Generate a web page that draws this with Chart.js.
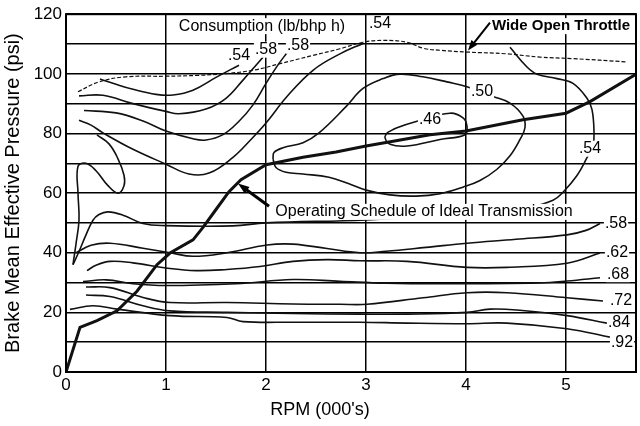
<!DOCTYPE html>
<html>
<head>
<meta charset="utf-8">
<script src="https://cdn.jsdelivr.net/npm/chart.js@4.4.1/dist/chart.umd.min.js"></script>
<style>
  html, body { margin: 0; padding: 0; background: #fff; }
</style>
</head>
<body>
<canvas id="bsfc-map" width="640" height="426"></canvas>
<script>
// Engine fuel consumption map, points are [rpm (000's), bmep (psi)]
const wideOpenThrottle = [[0.12,94],[0.33,97.3],[0.6,99],[1.0,99.2],[1.33,99.5],[1.6,100.1],[1.87,101.2],[2.14,103.4],[2.47,106.2],[2.74,108.4],[2.97,110.6],[3.17,111.2],[3.41,110.6],[3.57,108.6],[3.74,107.9],[4.01,107.3],[4.41,106.7],[4.74,105.6],[5.07,105.1],[5.61,104]];
const operatingSchedule = [[0,0],[0.14,15],[0.31,17.2],[0.51,20.5],[0.71,27.1],[0.91,36],[1.04,39.9],[1.27,44.3],[1.37,48.5],[1.5,54.5],[1.63,60.5],[1.75,64.5],[2.0,69.5],[2.37,72],[2.7,73.8],[3.0,75.8],[3.2,77],[3.64,79.6],[4.0,80.8],[4.57,84.6],[5.0,86.8],[5.24,90.7],[5.71,100.1]];

const c54TopLeft = [[0.34,98.3],[0.5,96.5],[0.67,94.8],[0.9,93.1],[1.07,92.9],[1.27,94.5],[1.5,98.8],[1.73,102.9]];
const c58TopA = [[0.13,92.6],[0.37,92.8],[0.67,90],[1.0,87.4],[1.13,86.6],[1.4,88.2],[1.6,91.8],[1.77,97.9],[1.9,102.9],[1.97,105.6]];
const c58TopB = [[0.18,87.7],[0.5,86.9],[0.77,84.2],[1.0,80.8],[1.27,78.2],[1.4,77.8],[1.57,79.6],[1.73,84.1],[1.87,89.6],[2.0,96.8],[2.12,103],[2.22,107.5]];
const c54Top = [[0.13,84.4],[0.25,82.8],[0.37,80.2],[0.67,74.7],[1.0,69.7],[1.23,66.4],[1.43,66.7],[1.67,72],[1.85,78],[2.0,83.5],[2.21,92.4],[2.47,101.2],[2.74,106.7],[2.97,110.2]];
const c50 = [[2.07,71.4],[2.08,73.6],[2.17,75.2],[2.37,76.9],[2.53,80.2],[2.8,89],[2.97,95.1],[3.17,98.4],[3.34,99.9],[3.57,99.0],[3.81,97.3],[4.01,95.7],[4.27,92.4],[4.44,90.2],[4.57,85.8],[4.59,82],[4.54,78],[4.44,72.5],[4.31,68],[4.14,64.2],[3.97,62],[3.74,59.8],[3.5,59],[3.24,59.4],[3.0,61],[2.83,63.1],[2.63,65.3],[2.37,66.4],[2.2,67],[2.1,68.6],[2.07,71.4]];
const c46 = [[3.21,80.2],[3.31,81.9],[3.51,84.1],[3.84,86.8],[3.97,85.2],[4.01,82.4],[3.99,79.6],[3.74,78.0],[3.41,75.8],[3.24,76.4],[3.19,78.6],[3.21,80.2]];
const c54Main = [[4.44,108.9],[4.61,102.3],[4.71,99.9],[4.91,98.4],[5.07,96.8],[5.21,91.8],[5.26,88],[5.28,80.4],[5.27,76],[5.21,71.9],[5.11,65.9],[4.97,60.3],[4.87,57.6],[4.6,55],[4.0,53],[3.0,51],[2.0,50],[1.67,49],[1.0,49.1],[0.77,49.8],[0.57,52.6],[0.42,53.7],[0.33,52.8],[0.27,50.9],[0.2,46],[0.13,40.4],[0.07,36]];
const c54Loop = [[0.07,36],[0.1,43],[0.13,51],[0.12,60],[0.12,69],[0.2,70],[0.3,67.5],[0.42,62.5],[0.52,60],[0.58,62.5],[0.58,66],[0.52,71.5],[0.43,76.5],[0.31,79.5]];
const c58 = [[0.1,40],[0.25,42.5],[0.44,43.2],[0.77,41.5],[1.04,40],[1.27,38.8],[1.61,40],[2.01,42.6],[2.27,42.9],[2.61,41.4],[2.94,40],[3.2,40.5],[3.6,41.8],[4.01,43.2],[4.5,44.5],[5.01,46],[5.2,47.5],[5.34,49.8]];
const c62 = [[0.21,34],[0.3,35.8],[0.44,37.1],[0.67,36.6],[1.0,34.9],[1.3,34],[1.61,34.4],[1.94,35.4],[2.27,37.1],[2.61,37.7],[2.94,37.3],[3.41,37.1],[4.01,35.1],[4.41,35.1],[5.01,36.5],[5.34,39.9]];
const c68 = [[0.17,30.3],[0.4,30.9],[0.67,29.6],[1.0,29.0],[1.7,29.6],[2.27,31],[2.74,30.4],[3.2,29.8],[3.74,29.6],[4.74,29.9],[5.01,30.5],[5.34,31.6]];
const c72 = [[0.2,28.5],[0.44,28.3],[0.77,25],[1.04,23.3],[1.61,23.3],[2.27,22.8],[2.74,22.7],[3.01,22.7],[3.57,24.9],[4.01,26.6],[4.41,26.6],[5.01,24.9],[5.37,23.8]];
const c84 = [[0.2,25.8],[0.44,25.3],[0.77,22.2],[1.04,20.5],[1.61,20],[2.27,19.6],[2.94,19.4],[3.41,19.4],[4.01,20],[4.24,21.1],[4.51,20.8],[5.01,18.9],[5.41,16.4]];
const c92 = [[0.04,21],[0.27,22.2],[0.51,21.1],[1.04,18.9],[1.61,18.3],[1.77,16.9],[2.27,16.7],[2.94,16.7],[3.41,16.4],[4.01,16.2],[4.41,16.4],[5.01,14.5],[5.44,11.7]];

// text on the map: [text, rpm, psi, bold]
const mapLabels = [
  ['Consumption (lb/bhp h)', 1.96, 116.0, false],
  ['.54', 1.73, 106.1, false],
  ['.58', 2.0, 108.1, false],
  ['.58', 2.32, 109.4, false],
  ['.54', 3.14, 116.7, false],
  ['Wide Open Throttle', 4.95, 116.0, true],
  ['.50', 4.16, 94.1, false],
  ['.46', 3.64, 84.5, false],
  ['.54', 5.24, 74.9, false],
  ['Operating Schedule of Ideal Transmission', 3.58, 53.7, false],
  ['.58', 5.5, 49.7, false],
  ['.62', 5.51, 40.1, false],
  ['.68', 5.52, 32.8, false],
  ['.72', 5.55, 23.9, false],
  ['.84', 5.53, 16.6, false],
  ['.92', 5.56, 9.9, false]
];
// arrows: [fromRpm, fromPsi, toRpm, toPsi, width]
const mapArrows = [
  [4.24, 117.2, 4.02, 107.8, 2],
  [2.03, 55.6, 1.72, 63.2, 3]
];
const xTitle = "RPM (000's)";
const yTitle = 'Brake Mean Effective Pressure (psi)';

const FONT = '"Liberation Sans", Arial, Helvetica, sans-serif';

function line(points, width, dash, tension) {
  return {
    data: points.map(p => ({ x: p[0], y: p[1] })),
    showLine: true,
    borderColor: '#111',
    borderWidth: width,
    borderDash: dash || [],
    pointRadius: 0,
    tension: tension === undefined ? 0.4 : tension,
    fill: false
  };
}

function drawArrow(ctx, x1, y1, x2, y2, w) {
  const ang = Math.atan2(y2 - y1, x2 - x1);
  const head = 9 + w;
  ctx.save();
  ctx.strokeStyle = '#000';
  ctx.fillStyle = '#000';
  ctx.lineWidth = w;
  ctx.beginPath();
  ctx.moveTo(x1, y1);
  ctx.lineTo(x2 - Math.cos(ang) * head * 0.8, y2 - Math.sin(ang) * head * 0.8);
  ctx.stroke();
  ctx.beginPath();
  ctx.moveTo(x2, y2);
  ctx.lineTo(x2 - head * Math.cos(ang - 0.35), y2 - head * Math.sin(ang - 0.35));
  ctx.lineTo(x2 - head * Math.cos(ang + 0.35), y2 - head * Math.sin(ang + 0.35));
  ctx.closePath();
  ctx.fill();
  ctx.restore();
}

// frame round the plot area
const framePlugin = {
  id: 'frame',
  afterDatasetsDraw(chart) {
    const { ctx, chartArea: a } = chart;
    ctx.save();
    ctx.strokeStyle = '#000';
    ctx.lineWidth = 2;
    ctx.strokeRect(a.left, a.top, a.right - a.left, a.bottom - a.top);
    ctx.restore();
  }
};

// labels, arrows and the x title (centred on the page, not the plot)
const textPlugin = {
  id: 'mapText',
  afterDraw(chart) {
    const { ctx } = chart;
    const xs = chart.scales.x, ys = chart.scales.y;
    ctx.save();
    ctx.textAlign = 'center';
    ctx.textBaseline = 'middle';
    mapLabels.forEach(([txt, rx, ry, bold]) => {
      const px = xs.getPixelForValue(rx);
      const py = ys.getPixelForValue(ry);
      ctx.font = (bold ? 'bold 15px ' : '16px ') + FONT;
      const w = ctx.measureText(txt).width;
      ctx.fillStyle = '#fff';
      ctx.fillRect(px - w / 2 - 1, py - 8, w + 2, 16);
      ctx.fillStyle = '#000';
      ctx.fillText(txt, px, py);
    });
    ctx.font = '18px ' + FONT;
    ctx.fillText(xTitle, chart.width / 2, xs.bottom - 16);
    ctx.restore();
    mapArrows.forEach(([x1, y1, x2, y2, w]) => {
      drawArrow(ctx, xs.getPixelForValue(x1), ys.getPixelForValue(y1),
        xs.getPixelForValue(x2), ys.getPixelForValue(y2), w);
    });
  }
};

const ctx = document.getElementById('bsfc-map').getContext('2d');
new Chart(ctx, {
  type: 'scatter',
  data: {
    datasets: [
      line(wideOpenThrottle, 1.2, [4, 2]),
      line(c54TopLeft, 1.6),
      line(c58TopA, 1.6),
      line(c58TopB, 1.6),
      line(c54Top, 1.6),
      line(c50, 1.6),
      line(c46, 1.6),
      line(c54Main, 1.6),
      line(c54Loop, 1.6),
      line(c58, 1.6),
      line(c62, 1.6),
      line(c68, 1.6),
      line(c72, 1.6),
      line(c84, 1.6),
      line(c92, 1.6),
      line(operatingSchedule, 3, [], 0)
    ]
  },
  options: {
    responsive: false,
    animation: false,
    layout: { padding: { top: 10, right: 4, left: 0, bottom: 0 } },
    plugins: {
      legend: { display: false },
      tooltip: { enabled: false }
    },
    scales: {
      x: {
        type: 'linear',
        min: 0,
        max: 5.7,
        ticks: { stepSize: 1, includeBounds: false, color: '#000', padding: 3, font: { family: FONT, size: 17 } },
        grid: { color: '#000', lineWidth: 1.5, drawTicks: false },
        border: { display: false },
        afterFit(scale) { scale.height = 54; }
      },
      y: {
        type: 'linear',
        min: 0,
        max: 120,
        ticks: {
          stepSize: 10,
          color: '#000',
          padding: 4,
          font: { family: FONT, size: 17 },
          callback: v => (v % 20 === 0 ? String(v) : '')
        },
        grid: { color: '#000', lineWidth: 1.5, drawTicks: false },
        border: { display: false },
        title: { display: true, text: yTitle, color: '#000', font: { family: FONT, size: 20 }, padding: { top: 1, bottom: 1 } },
        afterFit(scale) { scale.width = 66; }
      }
    }
  },
  plugins: [framePlugin, textPlugin]
});
</script>
</body>
</html>
